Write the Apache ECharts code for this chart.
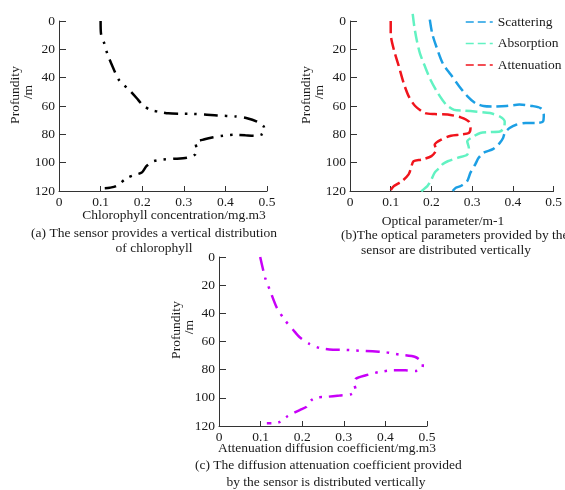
<!DOCTYPE html>
<html>
<head>
<meta charset="utf-8">
<script src="https://cdn.jsdelivr.net/npm/echarts@6/dist/echarts.min.js"></script>
<style>
  html, body { margin: 0; padding: 0; background: #fff; }
  #main { width: 565px; height: 490px; }
</style>
</head>
<body>
<div id="main"></div>
<script>
// values
var depthTicks = [0, 20, 40, 60, 80, 100, 120];
var valueTicks = [0, 0.1, 0.2, 0.3, 0.4, 0.5];

// (a) chlorophyll
var chlDepth = [0, 9, 16, 23, 33, 42, 49, 54.5, 59, 62.7, 64, 65.2, 65.5, 65.6, 66, 66.7, 67.4, 68.5, 71, 74.4, 78, 80, 81, 80.7, 80.3, 81, 82, 83.5, 86, 90.8, 94.3, 96.6, 97.3, 97.8, 99, 102.5, 107, 109, 111, 116.5, 117.7, 118];
var chlValue = [0.1, 0.101, 0.109, 0.116, 0.13, 0.145, 0.17, 0.187, 0.2, 0.219, 0.239, 0.263, 0.29, 0.323, 0.35, 0.38, 0.425, 0.45, 0.476, 0.492, 0.494, 0.488, 0.472, 0.448, 0.42, 0.395, 0.371, 0.35, 0.328, 0.331, 0.327, 0.307, 0.275, 0.25, 0.227, 0.21, 0.199, 0.178, 0.162, 0.138, 0.122, 0.11];

// (b) optical parameters
var scatDepth = [-1, 9, 18, 30, 38, 46, 53, 58, 60, 60.4, 60, 59, 60, 61.5, 66, 71, 72, 72, 73.2, 75.6, 79, 82.6, 86, 90.3, 93, 96.6, 101, 107, 113, 116.5, 117.7, 120];
var scatValue = [0.196, 0.202, 0.212, 0.228, 0.248, 0.268, 0.288, 0.308, 0.328, 0.352, 0.384, 0.416, 0.448, 0.468, 0.476, 0.474, 0.46, 0.432, 0.408, 0.392, 0.38, 0.376, 0.368, 0.352, 0.328, 0.316, 0.308, 0.296, 0.288, 0.272, 0.26, 0.252];
var absDepth = [-5, 4, 13.6, 23, 32, 41.6, 51, 59, 62.7, 63.2, 64, 65, 67.4, 71, 75.6, 78, 78.4, 79, 81.4, 85, 89.6, 94.3, 96.6, 99, 101, 103.6, 107, 113, 116.5, 120, 122.4];
var absValue = [0.154, 0.158, 0.164, 0.172, 0.184, 0.198, 0.216, 0.236, 0.256, 0.28, 0.312, 0.344, 0.368, 0.38, 0.378, 0.368, 0.344, 0.32, 0.304, 0.288, 0.292, 0.288, 0.264, 0.24, 0.228, 0.22, 0.208, 0.198, 0.19, 0.176, 0.168];
var attDepth = [0, 9, 20.6, 32, 44, 53, 60, 65, 65.7, 66, 68, 71, 75.6, 79, 80.2, 81, 83.7, 87.3, 90.8, 95.4, 97.8, 99, 103.6, 108.3, 113, 116.5, 119.3];
var attValue = [0.1, 0.1, 0.108, 0.12, 0.132, 0.144, 0.16, 0.184, 0.208, 0.24, 0.272, 0.292, 0.296, 0.292, 0.272, 0.248, 0.224, 0.208, 0.212, 0.2, 0.176, 0.156, 0.15, 0.144, 0.128, 0.108, 0.1];

// (c) diffuse attenuation
var kdDepth = [0, 14.8, 24, 36, 45, 52, 57, 61.8, 64.6, 65.8, 66, 66.5, 67, 67.6, 69.3, 71, 75.9, 79.4, 81, 80.5, 80.5, 81.7, 84, 86.4, 90, 94.6, 97.5, 98.4, 99.3, 99.8, 101.7, 106.4, 108.7, 113.4, 117, 118, 118];
var kdValue = [0.099, 0.111, 0.123, 0.139, 0.159, 0.179, 0.194, 0.218, 0.242, 0.274, 0.306, 0.337, 0.369, 0.4, 0.433, 0.472, 0.49, 0.488, 0.472, 0.448, 0.417, 0.385, 0.353, 0.329, 0.325, 0.329, 0.317, 0.29, 0.258, 0.234, 0.222, 0.21, 0.194, 0.163, 0.147, 0.131, 0.115];

var seriesNames = ['Scattering', 'Absorption', 'Attenuation'];

function pairs(vals, depths) {
  return vals.map(function (v, i) { return [v, depths[i]]; });
}

var serif = '"Liberation Serif", "DejaVu Serif", serif';
var ink = '#1a1a1a';

function xAx(idx) {
  return {
    type: 'value', gridIndex: idx, min: 0, max: 0.5, interval: 0.1, position: 'bottom',
    axisLine: { onZero: false, lineStyle: { color: '#333', width: 1 } },
    axisTick: { inside: true, length: 5, lineStyle: { color: '#333' } },
    axisLabel: { margin: 4, color: ink, fontFamily: serif, fontSize: 13.5,
      formatter: function (v) { return valueTicks.indexOf(+v.toFixed(1)) >= 0 ? String(+v.toFixed(1)) : ''; } },
    splitLine: { show: false }
  };
}
function yAx(idx) {
  return {
    type: 'value', gridIndex: idx, min: 0, max: 120, interval: 20, inverse: true, position: 'left',
    axisLine: { show: true, onZero: false, lineStyle: { color: '#333', width: 1 } },
    axisTick: { show: true, inside: true, length: 7, lineStyle: { color: '#333' } },
    axisLabel: { margin: 4, color: ink, fontFamily: serif, fontSize: 13.5,
      formatter: function (v) { return depthTicks.indexOf(v) >= 0 ? String(v) : ''; } },
    splitLine: { show: false }
  };
}

function txt(x, y, s, opts) {
  opts = opts || {};
  return {
    type: 'text', x: x, y: y, rotation: opts.rot || 0,
    style: { text: s, fill: ink, font: '13.5px ' + serif,
      align: opts.align || 'center', verticalAlign: 'middle', lineHeight: 14 }
  };
}

var myChart = echarts.init(document.getElementById('main'));

var option = {
  backgroundColor: '#fff',
  animation: false,
  grid: [
    { left: 59, top: 21, width: 208, height: 170 },
    { left: 350, top: 21, width: 208, height: 170 },
    { left: 219, top: 257, width: 208, height: 169 }
  ],
  xAxis: [xAx(0), xAx(1), xAx(2)],
  yAxis: [yAx(0), yAx(1), yAx(2)],
  legend: {
    data: seriesNames,
    orient: 'vertical',
    left: 460, top: 10,
    itemWidth: 27, itemHeight: 14, itemGap: 7.5,
    textStyle: { color: ink, fontFamily: serif, fontSize: 13.5 },
    itemStyle: { opacity: 0 },
    lineStyle: { type: [8, 4], width: 1.5 }
  },
  graphic: [
    txt(15, 95, 'Profundity', { rot: Math.PI / 2 }),
    txt(28, 92, '/m', { rot: Math.PI / 2 }),
    txt(306, 95, 'Profundity', { rot: Math.PI / 2 }),
    txt(319, 92, '/m', { rot: Math.PI / 2 }),
    txt(176, 330, 'Profundity', { rot: Math.PI / 2 }),
    txt(189, 327, '/m', { rot: Math.PI / 2 }),
    txt(174, 215, 'Chlorophyll concentration/mg.m3'),
    txt(154, 233, '(a) The sensor provides a vertical distribution'),
    txt(154, 248, 'of chlorophyll'),
    txt(443, 221, 'Optical parameter/m-1'),
    txt(341, 235, '(b)The optical parameters provided by the', { align: 'left' }),
    txt(446, 250, 'sensor are distributed vertically'),
    txt(327, 448, 'Attenuation diffusion coefficient/mg.m3'),
    txt(195, 465, '(c) The diffusion attenuation coefficient provided', { align: 'left' }),
    txt(326, 482, 'by the sensor is distributed vertically')
  ],
  series: [
    {
      name: 'chl', type: 'line', xAxisIndex: 0, yAxisIndex: 0,
      data: pairs(chlValue, chlDepth), smooth: 0.25, symbol: 'none',
      lineStyle: { color: '#000', width: 2.5, type: [14, 7, 2.5, 7, 2.5, 7] }
    },
    {
      name: 'Scattering', type: 'line', xAxisIndex: 1, yAxisIndex: 1, clip: false,
      data: pairs(scatValue, scatDepth), smooth: 0.25, symbol: 'none',
      itemStyle: { color: '#1c9fe4' },
      lineStyle: { color: '#1c9fe4', width: 2.5, type: [12, 5] }
    },
    {
      name: 'Absorption', type: 'line', xAxisIndex: 1, yAxisIndex: 1, clip: false,
      data: pairs(absValue, absDepth), smooth: 0.25, symbol: 'none',
      itemStyle: { color: '#62f2c2' },
      lineStyle: { color: '#62f2c2', width: 2.5, type: [12, 5] }
    },
    {
      name: 'Attenuation', type: 'line', xAxisIndex: 1, yAxisIndex: 1, clip: false,
      data: pairs(attValue, attDepth), smooth: 0.25, symbol: 'none',
      itemStyle: { color: '#f0141c' },
      lineStyle: { color: '#f0141c', width: 2.5, type: [12, 5] }
    },
    {
      name: 'kd', type: 'line', xAxisIndex: 2, yAxisIndex: 2,
      data: pairs(kdValue, kdDepth), smooth: 0.25, symbol: 'none',
      lineStyle: { color: '#c800f8', width: 2.5, type: [14, 7, 2.5, 7, 2.5, 7] }
    }
  ]
};

myChart.setOption(option);
</script>
</body>
</html>
